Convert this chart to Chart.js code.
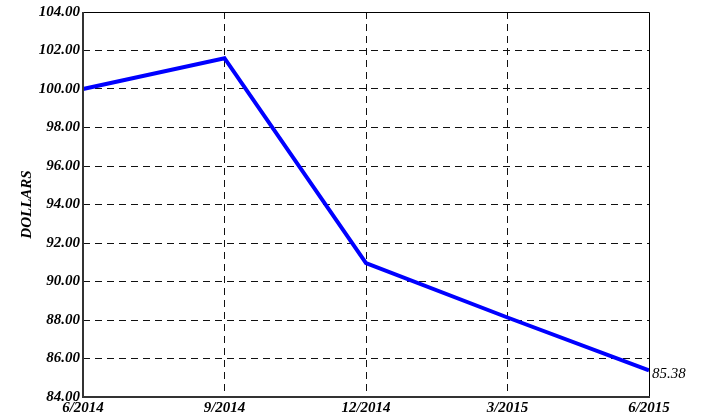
<!DOCTYPE html>
<html lang="en">
<head>
    <meta charset="UTF-8">
    <title>Dollars 6/2014 - 6/2015</title>
    <style>
        * { margin: 0; padding: 0; box-sizing: border-box; }
        body { background: #fff; }
        #wrap { width: 706px; height: 417px; }
    </style>
</head>
<body>
    <div id="wrap"><canvas id="priceChart" width="706" height="417"></canvas></div>

    <script src="https://cdn.jsdelivr.net/npm/chart.js"></script>
    <script>
        // values
        const periods = ['6/2014', '9/2014', '12/2014', '3/2015', '6/2015'];
        const dollars = [100.00, 101.60, 90.95, 88.13, 85.38];
        const yMin = 84;
        const yMax = 104;
        const yStep = 2;

        const serif = '"Liberation Serif", "Times New Roman", serif';

        // frame + end value label
        const framePlugin = {
            id: 'frame',
            afterDatasetsDraw(chart) {
                const { ctx, chartArea: a } = chart;
                ctx.save();
                ctx.setLineDash([]);
                ctx.lineWidth = 1;
                ctx.strokeStyle = '#000';
                ctx.beginPath();
                ctx.moveTo(a.left, a.top + 0.5);
                ctx.lineTo(a.right + 0.5, a.top + 0.5);
                ctx.lineTo(a.right + 0.5, a.bottom);
                ctx.stroke();

                ctx.lineWidth = 2;
                ctx.strokeStyle = '#333';
                ctx.beginPath();
                ctx.moveTo(a.left, a.top);
                ctx.lineTo(a.left, a.bottom);
                ctx.lineTo(a.right + 1, a.bottom);
                ctx.stroke();

                const meta = chart.getDatasetMeta(0);
                const last = meta.data[meta.data.length - 1];
                ctx.fillStyle = '#000';
                ctx.font = 'italic 15px ' + serif;
                ctx.textAlign = 'left';
                ctx.textBaseline = 'middle';
                ctx.fillText(dollars[dollars.length - 1].toFixed(2), last.x + 3, last.y + 4);
                ctx.restore();
            }
        };

        const ctx = document.getElementById('priceChart').getContext('2d');
        new Chart(ctx, {
            type: 'line',
            data: {
                labels: periods,
                datasets: [{
                    label: 'Dollars',
                    data: dollars,
                    borderColor: '#0000ff',
                    borderWidth: 4,
                    pointRadius: 0,
                    tension: 0,
                    fill: false
                }]
            },
            options: {
                responsive: false,
                animation: false,
                layout: { padding: { top: 11, right: 57, left: 0, bottom: 0 } },
                plugins: { legend: { display: false }, tooltip: { enabled: false } },
                scales: {
                    x: {
                        offset: false,
                        afterFit(scale) { scale.height = 20; },
                        border: { display: false, dash: [7, 5] },
                        grid: {
                            drawTicks: false,
                            lineWidth: 1,
                            color: c => (c.index === 0 || c.index === periods.length - 1) ? 'rgba(0,0,0,0)' : '#111'
                        },
                        ticks: {
                            padding: 2,
                            maxRotation: 0,
                            color: '#000',
                            font: { family: serif, size: 15, style: 'italic', weight: 'bold' }
                        }
                    },
                    y: {
                        min: yMin,
                        max: yMax,
                        afterFit(scale) { scale.width = 83; },
                        border: { display: false, dash: [7, 5] },
                        grid: {
                            drawTicks: false,
                            lineWidth: 1,
                            color: c => (c.tick.value === yMin || c.tick.value === yMax) ? 'rgba(0,0,0,0)' : '#111'
                        },
                        ticks: {
                            stepSize: yStep,
                            padding: 3,
                            color: '#000',
                            font: { family: serif, size: 15, style: 'italic', weight: 'bold' },
                            callback: v => Number(v).toFixed(2)
                        },
                        title: {
                            display: true,
                            text: 'DOLLARS',
                            color: '#000',
                            padding: { top: 18, bottom: 0 },
                            font: { family: serif, size: 15, style: 'italic', weight: 'bold', lineHeight: 1.2 }
                        }
                    }
                }
            },
            plugins: [framePlugin]
        });
    </script>
</body>
</html>
